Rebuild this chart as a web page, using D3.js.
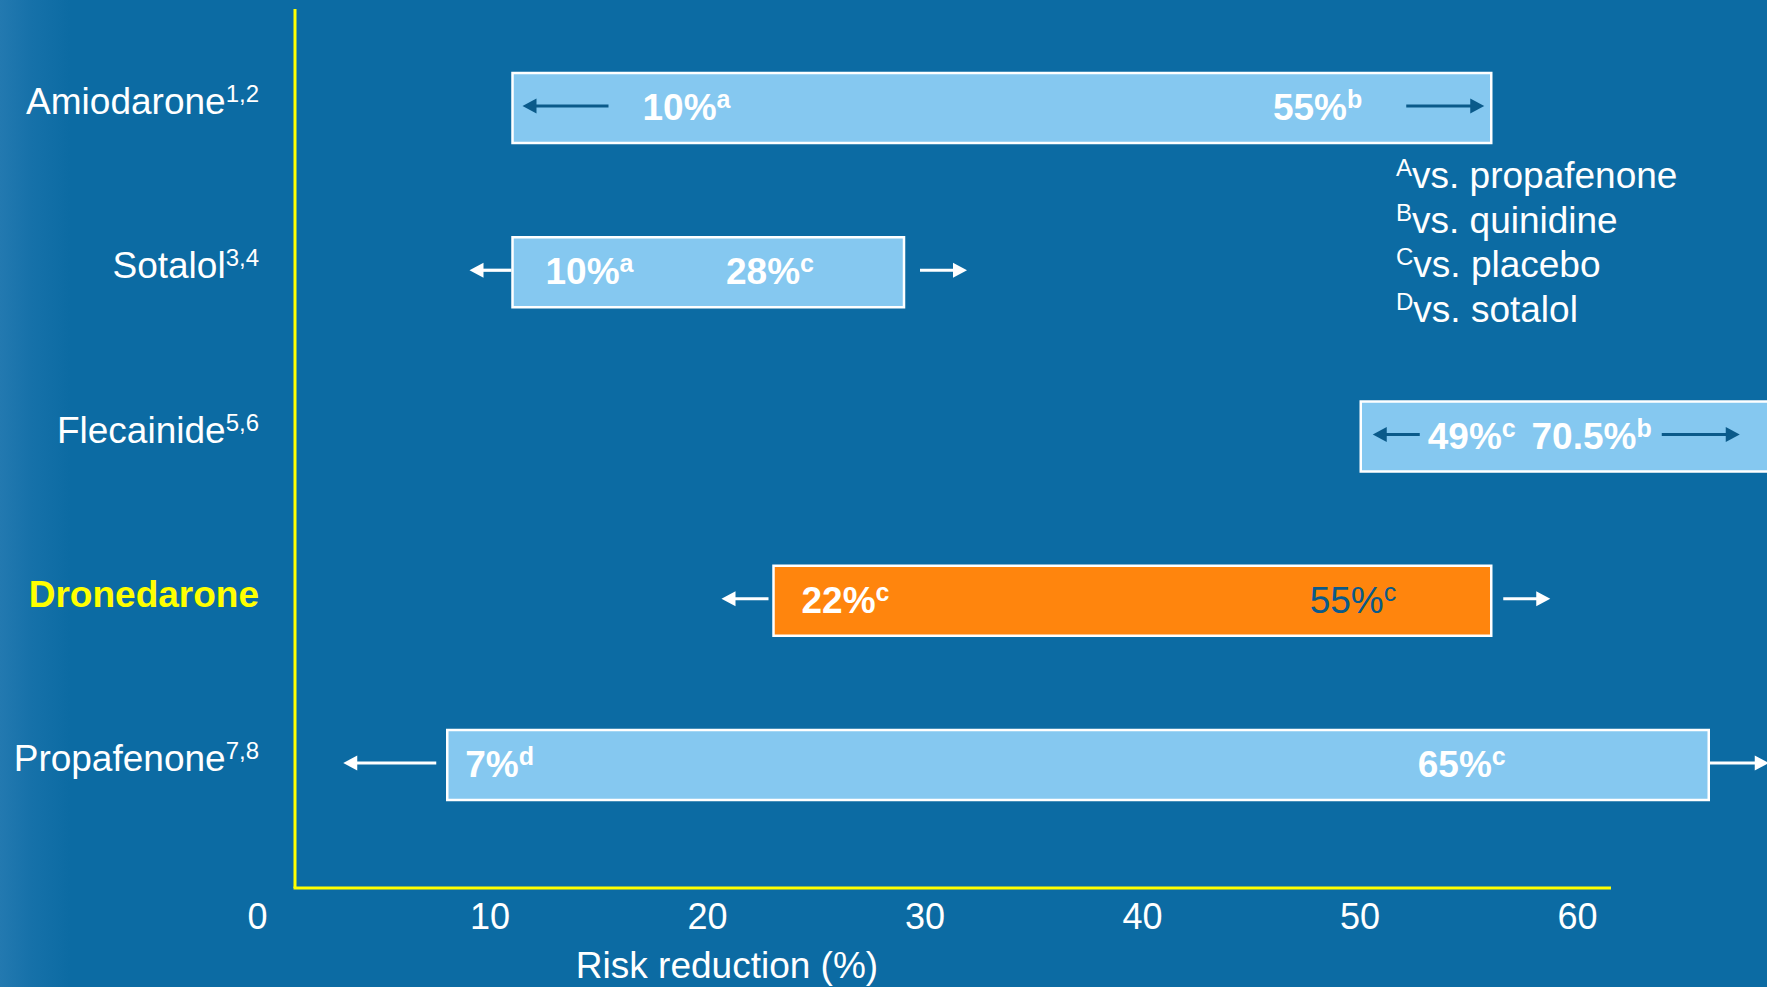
<!DOCTYPE html>
<html>
<head>
<meta charset="utf-8">
<script src="https://cdn.jsdelivr.net/npm/d3@7"></script>
<style>
  html, body { margin: 0; padding: 0; overflow: hidden; background: #0c6ba3; }
  svg { display: block; font-family: "Liberation Sans", Arial, sans-serif; }
</style>
</head>
<body>
<svg id="chart" width="1767" height="987"></svg>
<script>
// Antiarrhythmic drugs: range of reported risk reduction (%)
const drugs      = ["Amiodarone", "Sotalol", "Flecainide", "Dronedarone", "Propafenone"];
const references = ["1,2", "3,4", "5,6", "", "7,8"];
const lowValues  = [10, 10, 49, 22, 7];
const highValues = [55, 28, 70.5, 55, 65];
const lowNotes   = ["a", "a", "c", "c", "d"];
const highNotes  = ["b", "c", "b", "c", "c"];
const xTicks     = [0, 10, 20, 30, 40, 50, 60];
const noteKeys   = ["A", "B", "C", "D"];
const noteTexts  = ["vs. propafenone", "vs. quinidine", "vs. placebo", "vs. sotalol"];
const highlighted = "Dronedarone";

const W = 1767, H = 987;
const C = {
  bg: "#0c6ba3", bar: "#85c8f0", barHi: "#ff850d", axis: "#ffff00",
  white: "#ffffff", dark: "#0a5a8a"
};

const rows = drugs.map((name, i) => ({
  name, ref: references[i], lo: lowValues[i], hi: highValues[i],
  loNote: lowNotes[i], hiNote: highNotes[i]
}));

// Placement of the in-bar labels and range arrows, as pixel offsets from a bar edge
const layout = {
  Amiodarone:  { lo: ["lo", 130], hi: ["hi", -129], arrowL: [["lo", 10], ["lo", 96]],   arrowR: [["hi", -85], ["hi", -7]], arrow: C.dark },
  Sotalol:     { lo: ["lo", 33],  hi: ["hi", -90],  arrowL: [["lo", -43], ["lo", -1]],  arrowR: [["hi", 16], ["hi", 63]],  arrow: C.white },
  Flecainide:  { lo: ["lo", 67],  hi: ["lo", 291],  arrowL: [["lo", 12], ["lo", 59]],   arrowR: [["lo", 301], ["lo", 379]], arrow: C.dark },
  Dronedarone: { lo: ["lo", 28],  hi: ["hi", -95],  arrowL: [["lo", -52], ["lo", -5]],  arrowR: [["hi", 12], ["hi", 59]],  arrow: C.white, hiPlain: true },
  Propafenone: { lo: ["lo", 18],  hi: ["hi", -203], arrowL: [["lo", -104], ["lo", -11]], arrowR: [["hi", 0], ["hi", 60]],  arrow: C.white }
};

const svg = d3.select("#chart");

// background with a soft lighter strip on the far left
const defs = svg.append("defs");
const grad = defs.append("linearGradient").attr("id", "leftGlow").attr("x1", 0).attr("x2", 1);
grad.append("stop").attr("offset", 0).attr("stop-color", "#2379b0");
grad.append("stop").attr("offset", 0.45).attr("stop-color", "#1671a9");
grad.append("stop").attr("offset", 1).attr("stop-color", C.bg);
svg.append("rect").attr("width", W).attr("height", H).attr("fill", C.bg);
svg.append("rect").attr("width", 70).attr("height", H).attr("fill", "url(#leftGlow)");

const x = d3.scaleLinear().domain([0, 60]).range([295, 1600]);
const y = d3.scalePoint().domain(drugs).range([108, 765]);
const barH = 70;
const axisY = 888;

// axis lines
svg.append("line").attr("x1", x(0)).attr("x2", x(0)).attr("y1", 9).attr("y2", axisY)
  .attr("stroke", C.axis).attr("stroke-width", 3);
svg.append("line").attr("x1", x(0) - 1.5).attr("x2", x(60) + 11).attr("y1", axisY).attr("y2", axisY)
  .attr("stroke", C.axis).attr("stroke-width", 3);

// x axis tick labels
const xAxis = svg.append("g").attr("transform", `translate(0,${axisY})`)
  .call(d3.axisBottom(x).tickValues(xTicks).tickSize(0).tickFormat(d3.format("d")));
xAxis.select(".domain").remove();
xAxis.selectAll("text")
  .attr("y", 41).attr("dy", 0).attr("dx", d => d === 0 ? -28 : -3)
  .attr("text-anchor", "end")
  .attr("fill", C.white)
  .style("font-family", "'Liberation Sans', Arial, sans-serif")
  .style("font-size", "36px");

svg.append("text").attr("x", x(20) - 3).attr("y", 978)
  .attr("text-anchor", "middle").attr("fill", C.white)
  .style("font-size", "37px").text("Risk reduction (%)");

// category labels
const cat = svg.append("g").selectAll("text").data(rows).join("text")
  .attr("x", 259).attr("y", d => y(d.name) + 6)
  .attr("text-anchor", "end")
  .attr("fill", d => d.name === highlighted ? "#ffff00" : C.white)
  .style("font-size", "37px")
  .style("font-weight", d => d.name === highlighted ? "bold" : "normal");
cat.append("tspan").text(d => d.name);
cat.filter(d => d.ref).append("tspan").attr("dy", -12).style("font-size", "24px").text(d => d.ref);

// bars
svg.append("g").selectAll("rect").data(rows).join("rect")
  .attr("x", d => x(d.lo))
  .attr("y", d => y(d.name) - barH / 2)
  .attr("width", d => x(d.hi) - x(d.lo))
  .attr("height", barH)
  .attr("fill", d => d.name === highlighted ? C.barHi : C.bar)
  .attr("stroke", C.white).attr("stroke-width", 2.5);

const at = (d, spec) => (spec[0] === "lo" ? x(d.lo) : x(d.hi)) + spec[1];

// range arrows
function arrow(g, tail, tip, yy, color) {
  const dir = Math.sign(tip - tail), head = 14, half = 7.5;
  g.append("line").attr("x1", tail).attr("x2", tip - dir * head + dir)
    .attr("y1", yy).attr("y2", yy).attr("stroke", color).attr("stroke-width", 3.2);
  g.append("path")
    .attr("d", `M${tip},${yy}L${tip - dir * head},${yy - half}L${tip - dir * head},${yy + half}Z`)
    .attr("fill", color);
}
const arrows = svg.append("g");
rows.forEach(d => {
  const L = layout[d.name], yy = y(d.name) - 2;
  arrow(arrows, at(d, L.arrowL[1]), at(d, L.arrowL[0]), yy, L.arrow);
  arrow(arrows, at(d, L.arrowR[0]), at(d, L.arrowR[1]), yy, L.arrow);
});

// value labels inside the bars
const fmtPct = v => `${v}%`;
function valueLabel(d, value, note, spec, anchor, plain) {
  const t = svg.append("text")
    .attr("x", at(d, spec)).attr("y", y(d.name) + 12)
    .attr("text-anchor", anchor)
    .attr("fill", plain ? C.dark : C.white)
    .style("font-size", "37px")
    .style("font-weight", plain ? "normal" : "bold");
  t.append("tspan").text(fmtPct(value));
  t.append("tspan").attr("dy", -12).style("font-size", "25px").text(note);
}
rows.forEach(d => {
  const L = layout[d.name];
  valueLabel(d, d.lo, d.loNote, L.lo, "start", false);
  valueLabel(d, d.hi, d.hiNote, L.hi, "end", !!L.hiPlain);
});

// footnote key
const notes = svg.append("g").selectAll("text").data(noteKeys).join("text")
  .attr("x", 1396).attr("y", (d, i) => 188 + i * 44.7)
  .attr("fill", C.white).style("font-size", "37px");
notes.append("tspan").attr("dy", -12).style("font-size", "24px").text(d => d);
notes.append("tspan").attr("dy", 12).text((d, i) => noteTexts[i]);
</script>
</body>
</html>
